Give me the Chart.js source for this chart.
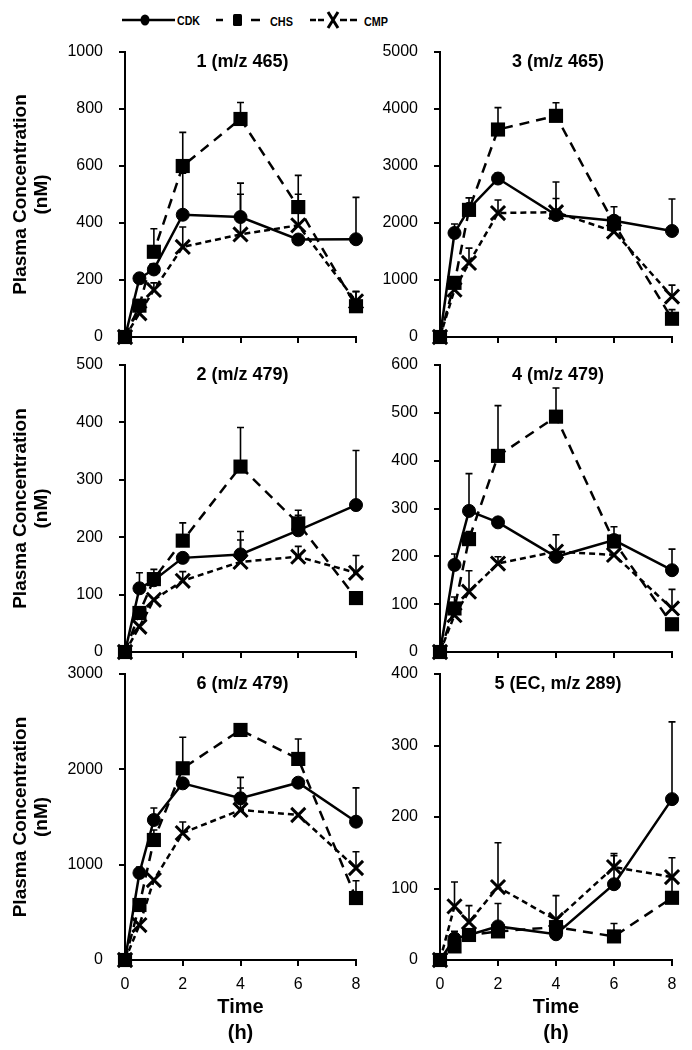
<!DOCTYPE html>
<html>
<head>
<meta charset="utf-8">
<script src="https://cdn.jsdelivr.net/npm/chart.js@4.4.1/dist/chart.umd.min.js"></script>
<style>
  body { margin: 0; background: #fff; }
  #wrap { position: relative; width: 692px; height: 1050px; overflow: hidden; }
  canvas { position: absolute; }
  #legend { position: absolute; left: 0; top: 0; }
  #legend text { font-family: 'Liberation Sans', Arial, sans-serif; font-weight: bold; font-size: 13px; }
</style>
</head>
<body>
<div id="wrap">
  <svg id="legend" width="692" height="40">
    <line x1="122" y1="20" x2="175" y2="20" stroke="#000" stroke-width="2.5"/>
    <ellipse cx="145" cy="20" rx="4.5" ry="5.5" fill="#000"/>
    <text x="177" y="25" textLength="23" lengthAdjust="spacingAndGlyphs">CDK</text>
    <line x1="216" y1="20" x2="223" y2="20" stroke="#000" stroke-width="2.5"/>
    <rect x="233" y="14" width="9" height="12" rx="1.5" fill="#000"/>
    <line x1="251" y1="20" x2="260" y2="20" stroke="#000" stroke-width="2.5"/>
    <text x="270" y="26" textLength="23" lengthAdjust="spacingAndGlyphs">CHS</text>
    <line x1="310" y1="20" x2="326" y2="20" stroke="#000" stroke-width="2.5" stroke-dasharray="6 2"/>
    <path d="M328 12 L338 28 M338 12 L328 28" stroke="#000" stroke-width="3"/>
    <line x1="340" y1="20" x2="358" y2="20" stroke="#000" stroke-width="2.5" stroke-dasharray="7 3"/>
    <text x="364" y="26" textLength="24" lengthAdjust="spacingAndGlyphs">CMP</text>
  </svg>
  <canvas id="p1"></canvas>
  <canvas id="p3"></canvas>
  <canvas id="p2"></canvas>
  <canvas id="p4"></canvas>
  <canvas id="p6"></canvas>
  <canvas id="p5"></canvas>
</div>
<script>
const times = [0, 0.5, 1, 2, 4, 6, 8]
const xTicks = [0, 2, 4, 6, 8]

// panel 1 (m/z 465)
const p1CDK = [0, 206, 237, 429, 421, 342, 343]
const p1CDKErr = [0, 0, 20, 146, 119, 0, 147]
const p1CHS = [0, 110, 299, 600, 765, 456, 108]
const p1CHSErr = [0, 0, 81, 118, 58, 111, 51]
const p1CMP = [0, 83, 165, 316, 360, 392, 125]
const p1CMPErr = [0, 0, 25, 70, 141, 109, 35]

// panel 3 (m/z 465)
const p3CDK = [0, 1825, 2250, 2780, 2140, 2040, 1860]
const p3CDKErr = [0, 157, 0, 95, 580, 245, 560]
const p3CHS = [0, 950, 2230, 3640, 3880, 1990, 320]
const p3CHSErr = [0, 0, 210, 385, 230, 130, 160]
const p3CMP = [0, 830, 1300, 2175, 2190, 1850, 710]
const p3CMPErr = [0, 0, 260, 228, 240, 0, 200]

// panel 2 (m/z 479)
const p2CDK = [0, 111, 125, 164, 170, 212, 256]
const p2CDKErr = [0, 27, 0, 0, 40, 26, 95]
const p2CHS = [0, 68, 127, 194, 323, 224, 94]
const p2CHSErr = [0, 0, 17, 31, 68, 23, 0]
const p2CMP = [0, 44, 91, 124, 157, 166, 138]
const p2CMPErr = [0, 0, 0, 16, 38, 18, 30]

// panel 4 (m/z 479)
const p4CDK = [0, 182, 295, 271, 199, 234, 171]
const p4CDKErr = [0, 23, 78, 0, 0, 28, 44]
const p4CHS = [0, 91, 236, 410, 492, 231, 58]
const p4CHSErr = [0, 24, 16, 105, 60, 0, 0]
const p4CMP = [0, 77, 126, 185, 210, 203, 91]
const p4CMPErr = [0, 0, 44, 14, 35, 0, 40]

// panel 6 (m/z 479)
const p6CDK = [0, 913, 1469, 1853, 1696, 1860, 1451]
const p6CDKErr = [0, 63, 126, 0, 220, 0, 354]
const p6CHS = [0, 577, 1259, 2011, 2413, 2109, 650]
const p6CHSErr = [0, 0, 105, 325, 0, 209, 182]
const p6CMP = [0, 367, 839, 1332, 1574, 1521, 965]
const p6CMPErr = [0, 0, 0, 116, 230, 0, 171]

// panel 5 (EC, m/z 289)
const p5CDK = [0, 30, 35, 47, 36, 106, 225]
const p5CDKErr = [0, 10, 0, 32, 0, 40, 108]
const p5CHS = [0, 19, 35, 40, 46, 33, 87]
const p5CHSErr = [0, 0, 0, 0, 0, 18, 26]
const p5CMP = [0, 75, 53, 102, 56, 130, 116]
const p5CMPErr = [0, 34, 23, 62, 34, 19, 27]

Chart.defaults.font.family = "'Liberation Sans', Arial, sans-serif"
Chart.defaults.color = '#000'

// upper-only error bars with a small cap
const errorBars = {
  id: 'errorBars',
  beforeDatasetsDraw(chart) {
    const { ctx, scales: { x, y } } = chart
    ctx.save()
    ctx.strokeStyle = '#000'
    ctx.lineWidth = 1.6
    chart.data.datasets.forEach(ds => {
      ds.errors.forEach((e, i) => {
        if (!e) return
        const px = x.getPixelForValue(times[i])
        const y0 = y.getPixelForValue(ds.data[i].y)
        const y1 = y.getPixelForValue(ds.data[i].y + e)
        ctx.beginPath()
        ctx.moveTo(px, y0)
        ctx.lineTo(px, y1)
        ctx.moveTo(px - 3.5, y1)
        ctx.lineTo(px + 3.5, y1)
        ctx.stroke()
      })
    })
    ctx.restore()
  }
}

// title drawn inside the plot area, near its top
const panelTitle = {
  id: 'panelTitle',
  afterDraw(chart, args, opts) {
    const { ctx, chartArea } = chart
    ctx.save()
    ctx.font = "bold 18px 'Liberation Sans', Arial, sans-serif"
    ctx.fillStyle = '#000'
    ctx.textAlign = 'center'
    ctx.textBaseline = 'middle'
    ctx.fillText(opts.text, (chartArea.left + chartArea.right) / 2 + 2, chartArea.top + 10)
    ctx.restore()
  }
}

function series(vals, errs, style) {
  return Object.assign({
    data: times.map((t, i) => ({ x: t, y: vals[i] })),
    errors: errs,
    borderColor: '#000',
    backgroundColor: '#000',
    pointBackgroundColor: '#000',
    pointBorderColor: '#000',
    borderWidth: 2.5,
    tension: 0,
    clip: false
  }, style)
}

function makePanel(p) {
  const canvas = document.getElementById(p.id)
  canvas.width = p.width
  canvas.height = p.height
  canvas.style.left = p.left + 'px'
  canvas.style.top = p.top + 'px'

  new Chart(canvas, {
    type: 'line',
    data: {
      datasets: [
        series(p.cdk, p.cdkErr, { pointStyle: 'circle', pointRadius: 6.5, pointBorderWidth: 1 }),
        series(p.chs, p.chsErr, { pointStyle: 'rect', pointRadius: 10, pointBorderWidth: 0, borderDash: [10, 7] }),
        series(p.cmp, p.cmpErr, { pointStyle: 'crossRot', pointRadius: 10, pointBorderWidth: 3, borderDash: [6, 4] })
      ]
    },
    options: {
      responsive: false,
      animation: false,
      devicePixelRatio: 1,
      layout: { autoPadding: false, padding: { top: 12, right: p.padRight, left: 0, bottom: 0 } },
      scales: {
        x: {
          type: 'linear',
          min: 0,
          max: 8,
          afterBuildTicks: s => { s.ticks = xTicks.map(v => ({ value: v })) },
          afterFit: s => { s.height = p.xHeight; s.paddingLeft = 0; s.paddingRight = 0 },
          border: { display: true, color: '#000', width: 2 },
          grid: { drawOnChartArea: false, drawTicks: true, tickLength: 6, color: '#000', lineWidth: 2 },
          ticks: { display: p.showX, font: { size: 16 }, color: '#000', padding: 9, maxRotation: 0, callback: v => String(v) },
          title: {
            display: p.showX,
            text: ['Time', '(h)'],
            font: { size: 20, weight: 'bold', lineHeight: 1.3 },
            color: '#000',
            padding: { top: 0, bottom: 4 }
          }
        },
        y: {
          min: 0,
          max: p.max,
          // fixed axis width; drop the label overflow padding so the plot area lands where we want it
          afterFit: s => { s.width = p.yWidth; s.paddingTop = 0; s.paddingBottom = 0 },
          border: { display: true, color: '#000', width: 2 },
          grid: { drawOnChartArea: false, drawTicks: true, tickLength: 6, color: '#000', lineWidth: 2 },
          ticks: { stepSize: p.step, font: { size: 16 }, color: '#000', padding: 16, callback: v => String(v) },
          title: {
            display: p.showY,
            text: ['Plasma Concentration', '(nM)'],
            font: { size: 19, weight: 'bold', lineHeight: 1.1 },
            color: '#000',
            padding: { top: 10, bottom: 0 }
          }
        }
      },
      plugins: {
        legend: { display: false },
        tooltip: { enabled: false },
        panelTitle: { text: p.title }
      }
    },
    plugins: [errorBars, panelTitle]
  })
}

const leftCol = { left: 0, width: 372, yWidth: 125, padRight: 16, showY: true }
const rightCol = { left: 372, width: 320, yWidth: 68, padRight: 20, showY: false }
const row1 = { top: 40, height: 310, xHeight: 13, showX: false }
const row2 = { top: 353, height: 312, xHeight: 13, showX: false }
const row3 = { top: 662, height: 388, xHeight: 90, showX: true }

makePanel(Object.assign({ id: 'p1', title: '1 (m/z 465)', max: 1000, step: 200,
  cdk: p1CDK, cdkErr: p1CDKErr, chs: p1CHS, chsErr: p1CHSErr, cmp: p1CMP, cmpErr: p1CMPErr }, leftCol, row1))
makePanel(Object.assign({ id: 'p3', title: '3 (m/z 465)', max: 5000, step: 1000,
  cdk: p3CDK, cdkErr: p3CDKErr, chs: p3CHS, chsErr: p3CHSErr, cmp: p3CMP, cmpErr: p3CMPErr }, rightCol, row1))
makePanel(Object.assign({ id: 'p2', title: '2 (m/z 479)', max: 500, step: 100,
  cdk: p2CDK, cdkErr: p2CDKErr, chs: p2CHS, chsErr: p2CHSErr, cmp: p2CMP, cmpErr: p2CMPErr }, leftCol, row2))
makePanel(Object.assign({ id: 'p4', title: '4 (m/z 479)', max: 600, step: 100,
  cdk: p4CDK, cdkErr: p4CDKErr, chs: p4CHS, chsErr: p4CHSErr, cmp: p4CMP, cmpErr: p4CMPErr }, rightCol, row2))
makePanel(Object.assign({ id: 'p6', title: '6 (m/z 479)', max: 3000, step: 1000,
  cdk: p6CDK, cdkErr: p6CDKErr, chs: p6CHS, chsErr: p6CHSErr, cmp: p6CMP, cmpErr: p6CMPErr }, leftCol, row3))
makePanel(Object.assign({ id: 'p5', title: '5 (EC, m/z 289)', max: 400, step: 100,
  cdk: p5CDK, cdkErr: p5CDKErr, chs: p5CHS, chsErr: p5CHSErr, cmp: p5CMP, cmpErr: p5CMPErr }, rightCol, row3))
</script>
</body>
</html>
